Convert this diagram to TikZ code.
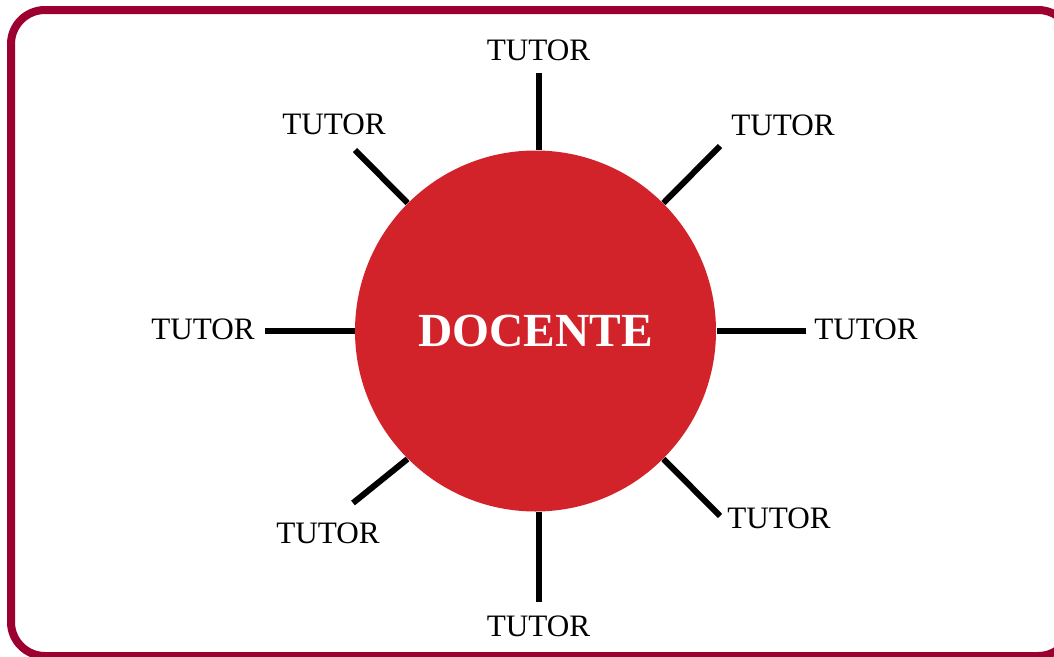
\documentclass[tikz,border=0pt]{standalone}
\usepackage{fontspec}
\setmainfont{Liberation Serif}

\definecolor{framered}{RGB}{155,0,48}
\definecolor{docred}{RGB}{210,35,42}

\tikzset{every picture/.style={line width=0.75pt}}
\tikzset{
  tutor/.style={inner sep=0.75pt,font=\fontsize{23.4}{28}\selectfont},
  spoke/.style={line width=4.5pt},
}

\begin{document}
\begin{tikzpicture}[x=0.75pt,y=0.75pt,yscale=-1,xscale=1]
        \useasboundingbox (0,0) rectangle (1054,657);

        %Shape: Rounded Rect [id:frame] 
        \draw [color=framered ,line width=6pt ,rounded corners=25.5pt] (11,10) rectangle (1072,656) ;

        %Shape: Circle [id:docente] 
        \node [circle ,fill=docred ,minimum size=270.75pt ,inner sep=0pt ,text=white ,font=\fontsize{35.6}{40}\selectfont\bfseries] (docente) at (535.5,331) {DOCENTE};

        % Spoke ends
        \coordinate (eN) at (539,73);
        \coordinate (eS) at (539,602);
        \coordinate (eW) at (265,331);
        \coordinate (eE) at (806,331);
        \coordinate (eNW) at (355,150);
        \coordinate (eNE) at (720,146);
        \coordinate (eSW) at (353,503);
        \coordinate (eSE) at (720,516);

        %Straight Lines [id:spokes] 
        \draw [spoke] (eN) -- (eN |- docente.north) ;
        \draw [spoke] (eS) -- (eS |- docente.south) ;
        \draw [spoke] (eW) -- (docente.west) ;
        \draw [spoke] (eE) -- (docente.east) ;
        \draw [spoke] (eNW) -- (docente.135) ;
        \draw [spoke] (eNE) -- (docente.45) ;
        \draw [spoke] (eSW) -- (docente.225) ;
        \draw [spoke] (eSE) -- (docente.315) ;

        % Text Node
        \node [tutor] (tN) at (538.5,50) {TUTOR};
        % Text Node
        \node [tutor] (tNW) at (334,124) {TUTOR};
        % Text Node
        \node [tutor] (tNE) at (783,125) {TUTOR};
        % Text Node
        \node [tutor] (tW) at (203,329) {TUTOR};
        % Text Node
        \node [tutor] (tE) at (866,329) {TUTOR};
        % Text Node
        \node [tutor] (tSW) at (328,533) {TUTOR};
        % Text Node
        \node [tutor] (tSE) at (779,518) {TUTOR};
        % Text Node
        \node [tutor] (tS) at (538.5,626) {TUTOR};

\end{tikzpicture}
\end{document}
